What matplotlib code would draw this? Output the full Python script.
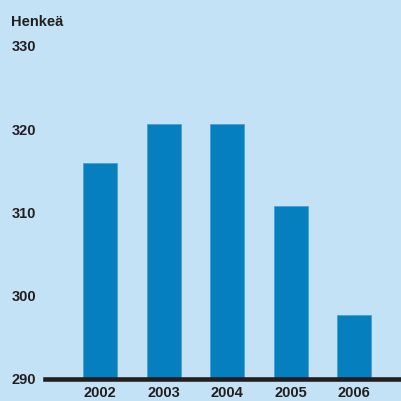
import matplotlib
matplotlib.use('Agg')
import matplotlib.pyplot as plt

years = ['2002', '2003', '2004', '2005', '2006']
persons = [315.9, 320.6, 320.6, 310.8, 297.7]
yticks = [290, 300, 310, 320, 330]

bg = '#c4e2f6'
bar_color = '#067fbf'
ink = '#231f20'

plt.rcParams['font.family'] = ['Liberation Sans', 'DejaVu Sans']
plt.rcParams['font.weight'] = 'bold'

fig = plt.figure(figsize=(4.01, 4.01), dpi=100, facecolor=bg)
ax = fig.add_axes([45/401, 22/401, 356/401, 333/401])
ax.set_facecolor(bg)

x = list(range(len(years)))
ax.bar(x, persons, width=0.54, bottom=0, color=bar_color,
       edgecolor='#4a9fd6', linewidth=0.6, zorder=2)

ax.set_ylim(290, 330)
ax.set_xlim(-0.871, 4.735)
ax.set_yticks(yticks)
ax.set_yticklabels([str(t) for t in yticks])
ax.set_xticks(x)
ax.set_xticklabels(years)

for s in ['top', 'right', 'left']:
    ax.spines[s].set_visible(False)
ax.spines['bottom'].set_linewidth(3.3)
ax.spines['bottom'].set_color(ink)
ax.spines['bottom'].set_zorder(3)

ax.tick_params(axis='both', length=0, labelsize=10.5, colors=ink)
ax.tick_params(axis='y', pad=6.5)
ax.tick_params(axis='x', pad=5)

fig.text(11/401, 1 - 22/401, 'Henkeä', fontsize=10.5, fontweight='bold',
         color=ink, ha='left', va='center')

fig.savefig('out.png', dpi=100, facecolor=bg)
